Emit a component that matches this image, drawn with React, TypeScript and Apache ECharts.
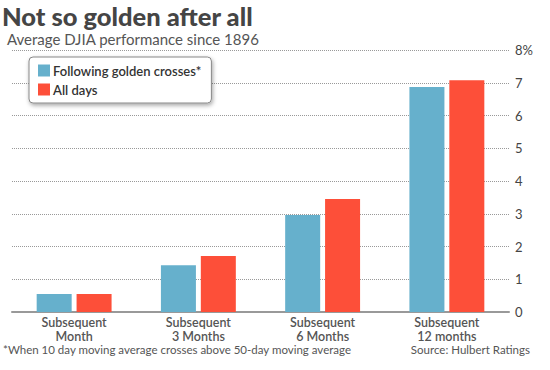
import React, { useEffect, useRef } from "react";
import * as echarts from "echarts";

const categories = ["Subsequent\nMonth", "Subsequent\n3 Months", "Subsequent\n6 Months", "Subsequent\n12 months"];
const goldenCrosses = [0.55, 1.43, 2.96, 6.87];
const allDays = [0.55, 1.71, 3.45, 7.08];
const seriesNames = ["Following golden crosses*", "All days"];
const titleText = "Not so golden after all";
const subtitleText = "Average DJIA performance since 1896";
const footnote = "*When 10 day moving average crosses above 50-day moving average";
const sourceText = "Source: Hulbert Ratings";

export default function App() {
  const ref = useRef<HTMLDivElement>(null);
  useEffect(() => {
    const chart = echarts.init(ref.current!, null, { renderer: "svg" });
    const font = "Lato, 'Open Sans', sans-serif";
    chart.setOption({
      animation: false,
      backgroundColor: "#fff",
      textStyle: { fontFamily: font },
      title: [
        {
          text: titleText,
          left: 2,
          top: 4,
          padding: 0,
          textStyle: { fontFamily: font, fontSize: 25.5, fontWeight: 900, color: "#454545", lineHeight: 24 },
        },
        {
          text: subtitleText,
          left: 7,
          top: 32,
          padding: 0,
          textStyle: { fontFamily: font, fontSize: 15, fontWeight: 400, color: "#555", lineHeight: 13 },
        },
      ],
      legend: {
        orient: "vertical",
        left: 29,
        top: 57,
        padding: [7, 10, 7, 9],
        itemWidth: 12,
        itemHeight: 12,
        itemGap: 6,
        icon: "rect",
        backgroundColor: "#fff",
        borderColor: "#888",
        borderWidth: 1,
        borderRadius: 4,
        shadowBlur: 4,
        shadowColor: "rgba(0,0,0,0.35)",
        shadowOffsetX: 1,
        shadowOffsetY: 2,
        textStyle: { fontFamily: font, fontSize: 13, fontWeight: 600, color: "#333", padding: [0, 0, 0, -2] },
        data: seriesNames,
      },
      grid: { left: 12, right: 41, top: 50, bottom: 58, containLabel: false },
      xAxis: {
        type: "category",
        data: categories,
        axisLine: { lineStyle: { color: "#999", width: 2 } },
        axisTick: { show: false },
        axisLabel: {
          fontFamily: font,
          fontSize: 12.5,
          fontWeight: 600,
          color: "#555",
          lineHeight: 14,
          margin: 3,
        },
      },
      yAxis: {
        type: "value",
        position: "right",
        min: 0,
        max: 8,
        interval: 1,
        axisLine: { show: false },
        axisTick: { show: false },
        axisLabel: {
          fontFamily: font,
          fontSize: 13,
          color: "#444",
          margin: 6,
          formatter: (v: number) => (v === 8 ? "8%" : String(v)),
        },
        splitLine: { lineStyle: { type: "dotted", color: "#999", width: 1 } },
      },
      series: [
        {
          name: seriesNames[0],
          type: "bar",
          data: goldenCrosses,
          barWidth: 35,
          barGap: "14%",
          itemStyle: { color: "#66b0cc" },
        },
        {
          name: seriesNames[1],
          type: "bar",
          data: allDays,
          barWidth: 35,
          itemStyle: { color: "#fd4f39" },
        },
      ],
      graphic: [
        {
          type: "text",
          left: 3,
          top: 343,
          style: { text: footnote, fontFamily: font, fontSize: 11.5, fill: "#555" },
        },
        {
          type: "text",
          right: 20,
          top: 343,
          style: { text: sourceText, fontFamily: font, fontSize: 11.5, fill: "#555" },
        },
      ],
    });
    return () => chart.dispose();
  }, []);
  return <div ref={ref} style={{ width: 550, height: 370, position: "absolute", left: 0, top: 0 }} />;
}
